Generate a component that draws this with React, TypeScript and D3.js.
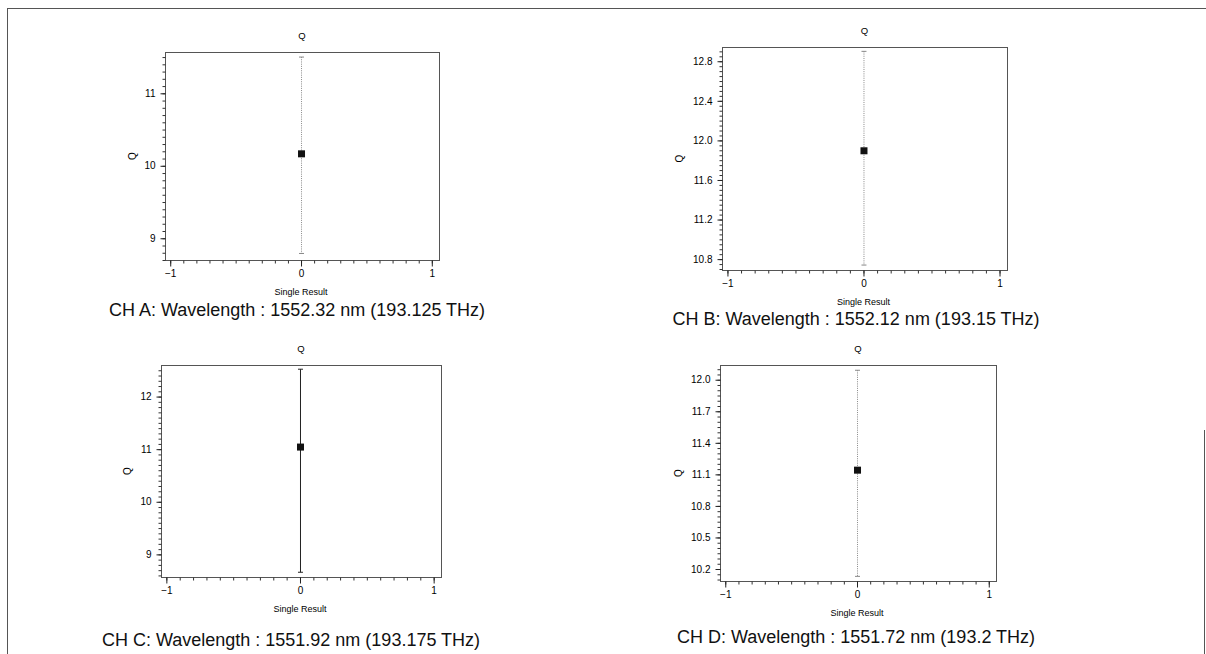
import { useEffect, useRef } from "react";
import * as d3 from "d3";

// Q measurement per channel (mean with min/max error bar)
const CHANNELS = ["A", "B", "C", "D"];
const CAPTIONS = [
  "CH A: Wavelength : 1552.32 nm (193.125 THz)",
  "CH B: Wavelength : 1552.12 nm (193.15 THz)",
  "CH C: Wavelength : 1551.92 nm (193.175 THz)",
  "CH D: Wavelength : 1551.72 nm (193.2 THz)",
];
const Q_MEAN = [10.165, 11.895, 11.04, 11.14];
const Q_HIGH = [11.5, 12.9, 12.52, 12.09];
const Q_LOW = [8.79, 10.74, 8.66, 10.13];

const Y_MIN = [8.7, 10.69, 8.57, 10.086];
const Y_MAX = [11.57, 12.944, 12.6, 12.14];
const Y_TICKS = [
  [9, 10, 11],
  [10.8, 11.2, 11.6, 12.0, 12.4, 12.8],
  [9, 10, 11, 12],
  [10.2, 10.5, 10.8, 11.1, 11.4, 11.7, 12.0],
];
const Y_MINOR_STEP = [0.1, 0.05, 0.1, 0.05];
const Y_FORMAT = ["d", ".1f", "d", ".1f"];
const X_TICKS = [-1, 0, 1];
const X_DOMAIN: [number, number] = [-1.04, 1.055];
const ERROR_SOLID = [false, false, true, false];

// plot boxes (left, top, right, bottom) and caption anchors
const LAYOUT = [
  { l: 165, t: 52, r: 439, b: 260, capX: 297, capY: 316, yLab: 32 },
  { l: 722, t: 47, r: 1007, b: 270, capX: 856, capY: 325, yLab: 42 },
  { l: 161, t: 365, r: 441, b: 577, capX: 291, capY: 646, yLab: 33 },
  { l: 720, t: 365, r: 996, b: 581, capX: 856, capY: 643, yLab: 41 },
];

const FONT = "'Liberation Sans', Arial, Helvetica, sans-serif";

export default function App() {
  const svgRef = useRef<SVGSVGElement>(null);

  useEffect(() => {
    if (!svgRef.current) return;
    const svg = d3.select(svgRef.current);
    svg.selectAll("*").remove();

    svg.append("rect").attr("width", 1206).attr("height", 654).attr("fill", "#fff");

    // outer page frame
    const frame = svg.append("g").attr("stroke", "#555").attr("stroke-width", 1);
    frame.append("line").attr("x1", 7).attr("x2", 1206).attr("y1", 8.5).attr("y2", 8.5);
    frame.append("line").attr("x1", 7.5).attr("x2", 7.5).attr("y1", 8).attr("y2", 654);
    frame.append("line").attr("x1", 1204.5).attr("x2", 1204.5).attr("y1", 430).attr("y2", 654);

    CHANNELS.forEach((ch, i) => {
      const L = LAYOUT[i];
      const g = svg.append("g").attr("class", `panel-${ch}`);

      const x = d3.scaleLinear().domain(X_DOMAIN).range([L.l, L.r]);
      const y = d3.scaleLinear().domain([Y_MIN[i], Y_MAX[i]]).range([L.b, L.t]);
      const fmt = d3.format(Y_FORMAT[i]);

      // plot box
      g.append("rect")
        .attr("x", L.l + 0.5)
        .attr("y", L.t + 0.5)
        .attr("width", L.r - L.l)
        .attr("height", L.b - L.t)
        .attr("fill", "none")
        .attr("stroke", "#555")
        .attr("stroke-width", 1);

      // y axis
      const step = Y_MINOR_STEP[i];
      const minorY = d3
        .range(Math.ceil(Y_MIN[i] / step), Math.floor(Y_MAX[i] / step) + 1)
        .map((k) => k * step);
      g.append("g")
        .attr("transform", `translate(${L.l + 0.5},0)`)
        .call(d3.axisLeft(y).tickValues(minorY).tickSize(3).tickFormat(() => ""))
        .call((a) => a.select(".domain").remove())
        .call((a) => a.selectAll("line").attr("stroke", "#333"));
      g.append("g")
        .attr("transform", `translate(${L.l + 0.5},0)`)
        .call(d3.axisLeft(y).tickValues(Y_TICKS[i]).tickSize(5).tickPadding(5).tickFormat((d) => fmt(d as number)))
        .call((a) => a.select(".domain").remove())
        .call((a) => a.selectAll("line").attr("stroke", "#222"))
        .call((a) =>
          a.selectAll("text")
            .attr("font-family", FONT)
            .attr("font-size", 10)
            .attr("fill", "#000")
        );

      // x axis
      const minorX = d3.range(-10, 11).map((v) => v / 10);
      g.append("g")
        .attr("transform", `translate(0,${L.b + 0.5})`)
        .call(d3.axisBottom(x).tickValues(minorX).tickSize(3).tickFormat(() => ""))
        .call((a) => a.select(".domain").remove())
        .call((a) => a.selectAll("line").attr("stroke", "#333"));
      g.append("g")
        .attr("transform", `translate(0,${L.b + 0.5})`)
        .call(d3.axisBottom(x).tickValues(X_TICKS).tickSize(6).tickPadding(3).tickFormat(d3.format("d")))
        .call((a) => a.select(".domain").remove())
        .call((a) => a.selectAll("line").attr("stroke", "#222"))
        .call((a) =>
          a.selectAll("text")
            .attr("font-family", FONT)
            .attr("font-size", 10)
            .attr("fill", "#000")
        );

      // titles
      const cx = (L.l + L.r) / 2;
      g.append("text")
        .attr("x", cx)
        .attr("y", L.t - 13)
        .attr("text-anchor", "middle")
        .attr("font-family", FONT)
        .attr("font-size", 9.5)
        .attr("fill", "#000")
        .text("Q");
      g.append("text")
        .attr("transform", `translate(${L.l - L.yLab + 3},${(L.t + L.b) / 2}) rotate(-90)`)
        .attr("text-anchor", "middle")
        .attr("font-family", FONT)
        .attr("font-size", 10)
        .attr("fill", "#000")
        .text("Q");
      g.append("text")
        .attr("x", x(0))
        .attr("y", L.b + 35)
        .attr("text-anchor", "middle")
        .attr("font-family", FONT)
        .attr("font-size", 9)
        .attr("fill", "#000")
        .text("Single Result");
      g.append("text")
        .attr("x", L.capX)
        .attr("y", L.capY)
        .attr("text-anchor", "middle")
        .attr("font-family", FONT)
        .attr("font-size", 18)
        .attr("fill", "#111")
        .text(CAPTIONS[i]);

      // error bar
      const ex = x(0) + 0.5;
      const errColor = ERROR_SOLID[i] ? "#222" : "#888";
      const dash = ERROR_SOLID[i] ? null : "1,1.2";
      g.append("line")
        .attr("x1", ex).attr("x2", ex)
        .attr("y1", y(Q_HIGH[i])).attr("y2", y(Q_LOW[i]))
        .attr("stroke", errColor)
        .attr("stroke-width", 1)
        .attr("stroke-dasharray", dash);
      [Q_HIGH[i], Q_LOW[i]].forEach((v) => {
        g.append("line")
          .attr("x1", ex - 2.5).attr("x2", ex + 2.5)
          .attr("y1", y(v)).attr("y2", y(v))
          .attr("stroke", errColor)
          .attr("stroke-width", 1);
      });

      // mean marker
      g.append("rect")
        .attr("x", ex - 3.5)
        .attr("y", y(Q_MEAN[i]) - 3.5)
        .attr("width", 7)
        .attr("height", 7)
        .attr("fill", "#111");
    });
  }, []);

  return (
    <div style={{ position: "absolute", left: 0, top: 0 }}>
      <svg ref={svgRef} width={1206} height={654} style={{ display: "block" }} />
    </div>
  );
}
